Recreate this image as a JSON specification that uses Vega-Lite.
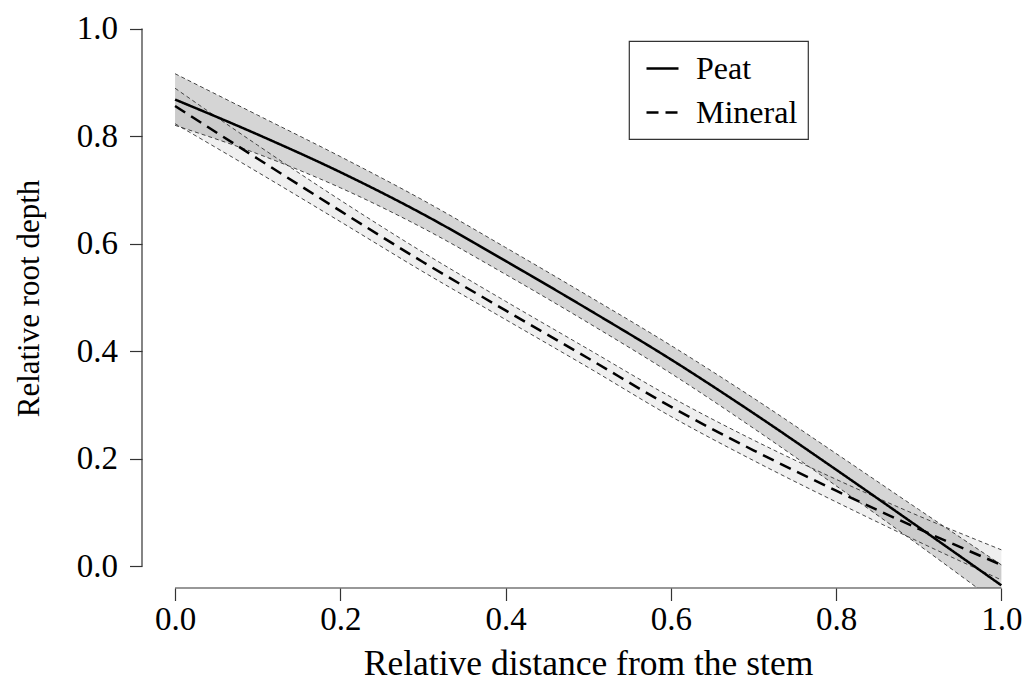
{
  "$schema": "https://vega.github.io/schema/vega-lite/v6.json",
  "width": 880,
  "height": 581,
  "autosize": {"type": "none"},
  "padding": {"left": 142, "top": 7, "right": 0, "bottom": 96},
  "background": "white",
  "config": {
    "view": {"stroke": null},
    "font": "Liberation Serif",
    "legend": {
      "orient": "none",
      "legendX": 487,
      "legendY": 34,
      "strokeColor": "#333333",
      "strokeWidth": 1.2,
      "padding": 10,
      "symbolOffset": 6,
      "symbolType": "stroke",
      "symbolSize": 1024,
      "symbolStrokeWidth": 2.5,
      "symbolStrokeColor": "black",
      "labelFont": "Liberation Serif",
      "labelFontSize": 32,
      "labelColor": "black",
      "labelOffset": 16,
      "rowPadding": 10,
      "title": null
    }
  },
  "data": {
    "values": [
      {"group": "Peat", "x": 0.0, "fit": 0.868, "lo": 0.820, "hi": 0.916},
      {"group": "Peat", "x": 0.1, "fit": 0.803, "lo": 0.767, "hi": 0.839},
      {"group": "Peat", "x": 0.2, "fit": 0.733, "lo": 0.704, "hi": 0.762},
      {"group": "Peat", "x": 0.3, "fit": 0.655, "lo": 0.629, "hi": 0.681},
      {"group": "Peat", "x": 0.4, "fit": 0.568, "lo": 0.543, "hi": 0.593},
      {"group": "Peat", "x": 0.5, "fit": 0.478, "lo": 0.453, "hi": 0.503},
      {"group": "Peat", "x": 0.6, "fit": 0.385, "lo": 0.359, "hi": 0.411},
      {"group": "Peat", "x": 0.7, "fit": 0.285, "lo": 0.257, "hi": 0.313},
      {"group": "Peat", "x": 0.8, "fit": 0.180, "lo": 0.150, "hi": 0.210},
      {"group": "Peat", "x": 0.9, "fit": 0.073, "lo": 0.040, "hi": 0.106},
      {"group": "Peat", "x": 1.0, "fit": -0.035, "lo": -0.073, "hi": 0.003},
      {"group": "Mineral", "x": 0.0, "fit": 0.856, "lo": 0.823, "hi": 0.889},
      {"group": "Mineral", "x": 0.1, "fit": 0.758, "lo": 0.733, "hi": 0.783},
      {"group": "Mineral", "x": 0.2, "fit": 0.661, "lo": 0.641, "hi": 0.681},
      {"group": "Mineral", "x": 0.3, "fit": 0.566, "lo": 0.548, "hi": 0.584},
      {"group": "Mineral", "x": 0.4, "fit": 0.476, "lo": 0.459, "hi": 0.493},
      {"group": "Mineral", "x": 0.5, "fit": 0.387, "lo": 0.370, "hi": 0.404},
      {"group": "Mineral", "x": 0.6, "fit": 0.297, "lo": 0.279, "hi": 0.315},
      {"group": "Mineral", "x": 0.7, "fit": 0.216, "lo": 0.197, "hi": 0.235},
      {"group": "Mineral", "x": 0.8, "fit": 0.141, "lo": 0.120, "hi": 0.162},
      {"group": "Mineral", "x": 0.9, "fit": 0.070, "lo": 0.046, "hi": 0.094},
      {"group": "Mineral", "x": 1.0, "fit": 0.003, "lo": -0.025, "hi": 0.031}
    ]
  },
  "layer": [
    {
      "transform": [{"filter": "datum.group === 'Peat'"}],
      "mark": {"type": "area", "clip": true, "color": "#d5d5d5", "interpolate": "monotone"},
      "encoding": {
        "x": {
          "field": "x", "type": "quantitative",
          "scale": {"domain": [-0.04, 1.025], "nice": false, "zero": false},
          "axis": {
            "domain": false, "grid": false,
            "values": [0, 0.2, 0.4, 0.6, 0.8, 1.0], "format": ".1f",
            "tickSize": 12.5, "tickColor": "#333333", "tickWidth": 1.2,
            "labelFont": "Liberation Serif", "labelFontSize": 33, "labelColor": "black",
            "labelPadding": 3, "labelFlush": false, "labelOverlap": false,
            "title": "Relative distance from the stem",
            "titleFont": "Liberation Serif", "titleFontSize": 35.5, "titleFontWeight": "normal",
            "titleColor": "black", "titleX": 446, "titleY": 75, "titleBaseline": "middle", "titleAlign": "center"
          }
        },
        "y": {
          "field": "lo", "type": "quantitative",
          "scale": {"domain": [-0.04, 1.04], "nice": false, "zero": false},
          "axis": {
            "domain": false, "grid": false,
            "values": [0, 0.2, 0.4, 0.6, 0.8, 1.0], "format": ".1f",
            "tickSize": 12.5, "tickColor": "#333333", "tickWidth": 1.2,
            "labelFont": "Liberation Serif", "labelFontSize": 33, "labelColor": "black",
            "labelPadding": 12, "labelFlush": false, "labelOverlap": false,
            "title": "Relative root depth",
            "titleFont": "Liberation Serif", "titleFontSize": 31, "titleFontWeight": "normal",
            "titleColor": "black", "titleX": -113, "titleY": 291, "titleAngle": -90,
            "titleBaseline": "middle", "titleAlign": "center"
          }
        },
        "y2": {"field": "hi"}
      }
    },
    {
      "transform": [{"filter": "datum.group === 'Mineral'"}],
      "mark": {"type": "area", "clip": true, "color": "#8c8c8c", "opacity": 0.14, "interpolate": "monotone"},
      "encoding": {
        "x": {"field": "x", "type": "quantitative"},
        "y": {"field": "lo", "type": "quantitative"},
        "y2": {"field": "hi"}
      }
    },
    {
      "mark": {"type": "line", "clip": true, "color": "#333333", "strokeWidth": 0.9, "strokeDash": [4, 3], "interpolate": "monotone"},
      "encoding": {
        "x": {"field": "x", "type": "quantitative"},
        "y": {"field": "lo", "type": "quantitative"},
        "detail": {"field": "group"}
      }
    },
    {
      "mark": {"type": "line", "clip": true, "color": "#333333", "strokeWidth": 0.9, "strokeDash": [4, 3], "interpolate": "monotone"},
      "encoding": {
        "x": {"field": "x", "type": "quantitative"},
        "y": {"field": "hi", "type": "quantitative"},
        "detail": {"field": "group"}
      }
    },
    {
      "mark": {"type": "line", "clip": true, "color": "black", "strokeWidth": 2.5, "interpolate": "monotone"},
      "encoding": {
        "x": {"field": "x", "type": "quantitative"},
        "y": {"field": "fit", "type": "quantitative"},
        "strokeDash": {
          "field": "group", "type": "nominal",
          "scale": {"domain": ["Peat", "Mineral"], "range": [[1, 0], [12, 7]]},
          "legend": {"title": null}
        }
      }
    },
    {
      "data": {"values": [{}]},
      "mark": {"type": "rule", "color": "#333333", "strokeWidth": 1.2},
      "encoding": {
        "x": {"datum": 0},
        "x2": {"datum": 1},
        "y": {"datum": -0.04}
      }
    },
    {
      "data": {"values": [{}]},
      "mark": {"type": "rule", "color": "#333333", "strokeWidth": 1.2},
      "encoding": {
        "x": {"datum": -0.04},
        "y": {"datum": 0},
        "y2": {"datum": 1}
      }
    }
  ]
}
